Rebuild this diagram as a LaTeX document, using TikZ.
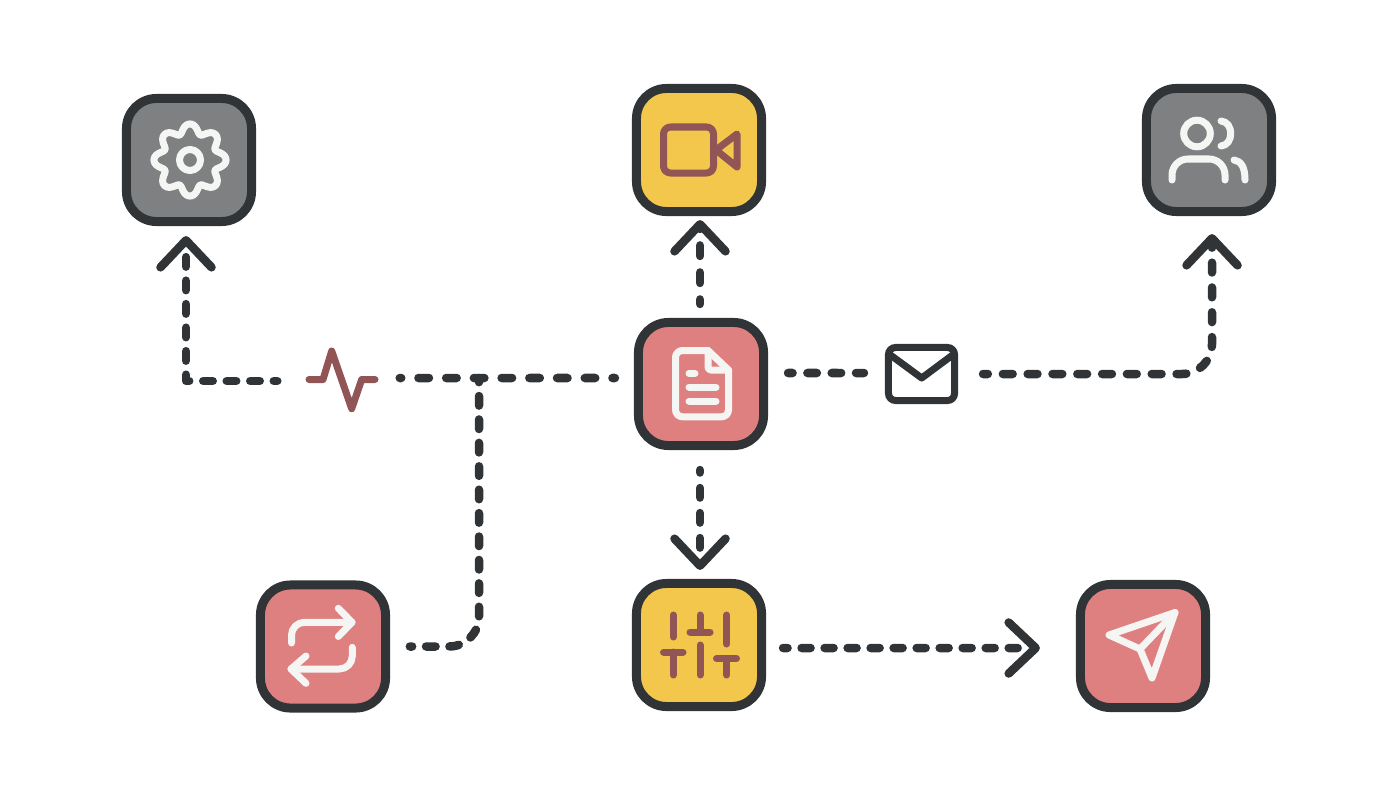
\documentclass[tikz,border=0pt]{standalone}
\usepackage{xcolor}
\usetikzlibrary{arrows.meta}
\definecolor{fink}{HTML}{303437}
\definecolor{fyellow}{HTML}{F3C74B}
\definecolor{frose}{HTML}{DF8080}
\definecolor{fgrey}{HTML}{7F8081}
\definecolor{fbrown}{HTML}{925555}
\definecolor{fpaper}{HTML}{F5F5F3}
\tikzset{
  tile/.style     = {draw=fink, line width=.09cm, rounded corners=.3cm, minimum width=1.25cm,
                     minimum height=1.23cm, inner sep=0pt},
  spot/.style     = {inner sep=0pt, minimum width=#1},
  lightline/.style = {draw=fpaper, line width=.07cm, line cap=round, line join=round},
  brownline/.style = {draw=fbrown, line width=.07cm, line cap=round, line join=round},
  flowtip/.tip    = {Straight Barb[length=.27cm, width=.51cm, line width=.085cm, round]},
  flow/.style n args = {3}{draw=fink, line width=.085cm, line cap=round, line join=round,
                     dash pattern=on #1 off #2, dash phase=#3},
}

\begin{document}
\begin{tikzpicture}[x=.01cm, y=-.01cm]
\useasboundingbox (0,0) rectangle (1400,800);
% ---- the tiles ----
\node[tile, fill=fgrey]   (settings) at (189,160) {};
\node[tile, fill=fyellow] (video)    at (699,150) {};
\node[tile, fill=fgrey]   (users)    at (1209,150) {};
\node[tile, fill=frose]   (file)     at (701,384) {};
\node[tile, fill=frose]   (repeat)   at (323,646.5) {};
\node[tile, fill=fyellow] (sliders)  at (699,645) {};
\node[tile, fill=frose]   (send)     at (1143,646) {};
% ---- the two icons on the lines ----
\node[spot=.72cm, minimum height=.64cm] (pulse) at (342,380) {};
\node[draw=fink, line width=.07cm, rounded corners=.07cm, minimum width=.66cm,
      minimum height=.53cm, inner sep=0pt] (mail) at (921.5,374) {};
\coordinate (tee) at (479,378);
% ---- connectors ----
\draw[flow={.105cm}{.165cm}{.06cm}, -flowtip, shorten <=.14cm, shorten >=.04cm]
  ([xshift=-.01cm]file.north) -- ([xshift=.01cm]video.south);
\draw[flow={.095cm}{.155cm}{.07cm}, -flowtip, shorten <=.2cm, shorten >=.09cm]
  ([xshift=-.01cm]file.south) -- ([xshift=.01cm]sliders.north);
\draw[flow={.105cm}{.172cm}{.08cm}, shorten <=.19cm, shorten >=.21cm]
  ([yshift=.06cm]file.west) -- ([yshift=.02cm]pulse.east);
\draw[flow={.095cm}{.14cm}{.06cm}, -flowtip, shorten <=.28cm, shorten >=.1cm]
  ([yshift=-.01cm]pulse.west) -| ([xshift=-.03cm]settings.south);
\draw[flow={.095cm}{.139cm}{.072cm}, shorten <=.198cm, rounded corners=.3cm]
  (repeat.east) -| (tee);
\draw[flow={.095cm}{.148cm}{.05cm}, shorten <=.2cm, shorten >=.21cm]
  ([yshift=.11cm]file.east) -- ([yshift=.01cm]mail.west);
\draw[flow={.098cm}{.15cm}{.05cm}, -flowtip, shorten <=.25cm, shorten >=.18cm, rounded corners=.3cm]
  (mail.east) -| ([xshift=.03cm]users.south);
\draw[flow={.09cm}{.14cm}{.045cm}, -flowtip, shorten <=.17cm, shorten >=.36cm]
  ([yshift=-.03cm]sliders.east) -- ([yshift=-.02cm]send.west);
% ---- gear ----
\draw[lightline] plot[domain=0:360, samples=145]
  ({190+(32+4.5*(cos(8*\x)-.1*cos(16*\x)))*cos(\x)},{160+(32+4.5*(cos(8*\x)-.1*cos(16*\x)))*sin(\x)}) -- cycle;
\draw[lightline] (190,160) circle[radius=10.5];
% ---- camera ----
\draw[brownline, rounded corners=.07cm] (663.5,127) rectangle (713.5,173);
\draw[brownline] (716,150) -- (737,134) -- (737,167) -- cycle;
% ---- people ----
\draw[lightline] (1197,133.5) circle[radius=13.3];
\draw[lightline] (1221,121) .. controls (1234,122) and (1234,145) .. (1221,146);
\draw[lightline, rounded corners=.16cm] (1172,180) -- (1172,159) -- (1225,159) -- (1225,180);
\draw[lightline] (1234,160) .. controls (1241,161) and (1245,167) .. (1245,180);
% ---- document ----
\draw[lightline, rounded corners=.07cm] (728.5,370) -- (728.5,416.8) -- (675.5,416.8) -- (675.5,350.5) -- (708,350.5);
\draw[lightline] (708,350.5) -- (728.5,370);
\draw[lightline, rounded corners=.03cm] (708,350.5) -- (708,370) -- (728.5,370);
\draw[lightline] (689,373.5) -- (695,373.5);
\foreach \y in {387,401}{
  \draw[lightline] (689,\y) -- (716,\y);}
% ---- pulse ----
\draw[brownline] (309,379.5) -- (323,379.5) -- (331.7,351) -- (351.7,408.7) -- (361.7,379.5) -- (375,379.5);
% ---- envelope flap ----
\draw[draw=fink, line width=.07cm, line join=round] (889,354) -- (921.7,378) -- (954,354);
% ---- repeat arrows ----
\draw[lightline, rounded corners=.13cm] (291.5,643) -- (291.5,622.3) -- (352,622.3);
\draw[lightline] (338.3,608.3) -- (352,622.3) -- (338.3,636.5);
\draw[lightline, rounded corners=.13cm] (352.3,647.3) -- (352.3,669) -- (291,669);
\draw[lightline] (306,656) -- (291,669) -- (306,683.3);
% ---- sliders ----
\foreach \x/\up in {673.3/637, 700/632, 726.7/644}{
  \draw[brownline] (\x,615) -- (\x,\up);}
\foreach \x/\low in {673.3/652, 700/645, 726.7/659}{
  \draw[brownline] (\x,\low) -- (\x,675);}
\draw[brownline] (663.5,652) -- (683,652);
\draw[brownline] (690,632) -- (710,632);
\draw[brownline] (716.5,658.5) -- (736.5,658.5);
% ---- paper plane ----
\draw[lightline] (1175,612.5) -- (1109,635) -- (1140,649) -- (1152,678) -- cycle;
\draw[lightline] (1140,649) -- (1175,612.5);
\end{tikzpicture}
\end{document}
